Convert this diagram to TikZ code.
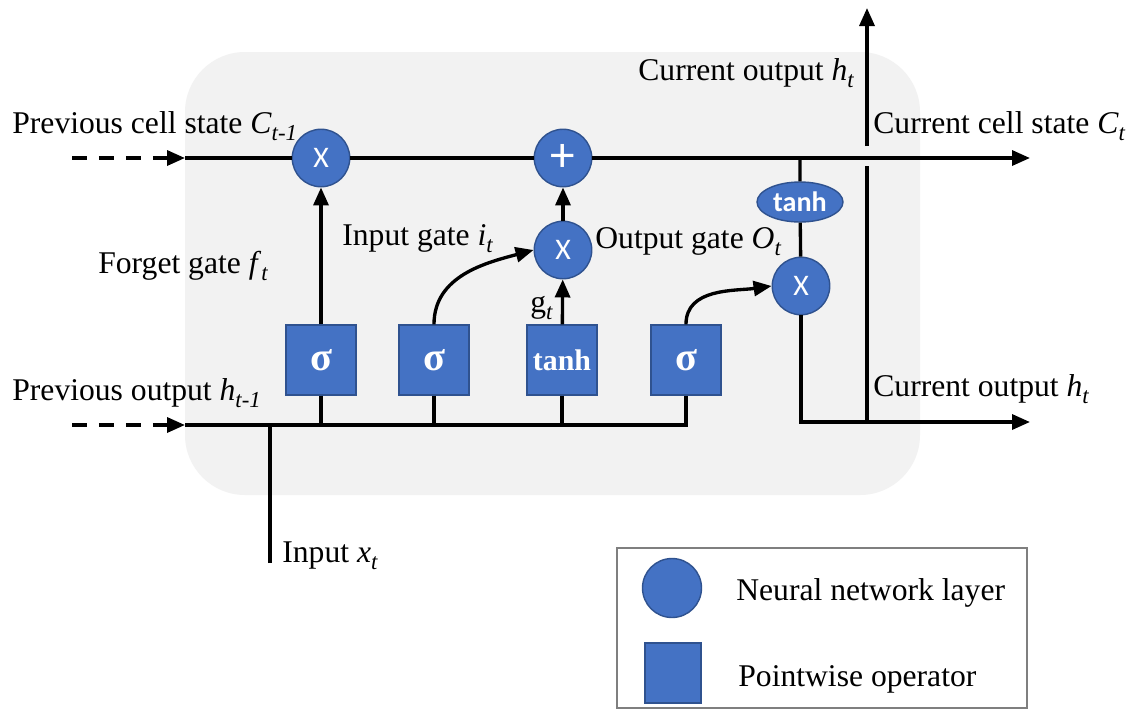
\documentclass[tikz,border=0pt]{standalone}
\usepackage{fontspec}
\setmainfont{Liberation Serif}
\newfontfamily\opfont{Carlito}
\usetikzlibrary{positioning, arrows.meta, shapes.geometric, calc}
\definecolor{gateblue}{HTML}{4472C4}
\definecolor{gateedge}{HTML}{2F528F}
\definecolor{cellgray}{HTML}{F2F2F2}
\definecolor{keyframe}{HTML}{7F7F7F}
\newcommand{\lowsub}[1]{\raisebox{-0.55ex}{\fontsize{13}{13}\selectfont\itshape #1}}
\tikzset{
  layer/.style={circle, minimum size=1.15cm, inner sep=0pt, fill=gateblue, draw=gateedge, line width=0.8pt, text=white, font=\opfont\fontsize{17}{17}\selectfont},
  pointwise/.style={rectangle, minimum width=1.4cm, minimum height=1.4cm, inner sep=0pt, fill=gateblue, draw=gateedge, line width=0.8pt, text=white, font=\bfseries\fontsize{17}{17}\selectfont},
  squash/.style={ellipse, minimum width=1.72cm, minimum height=0.8cm, inner sep=0pt, fill=gateblue, draw=gateedge, line width=0.8pt, text=white, font=\opfont\bfseries\fontsize{16}{16}\selectfont},
  sigma/.style={pointwise, font=\bfseries\fontsize{23}{23}\selectfont},
  txt/.style={anchor=base west, inner sep=0pt, font=\fontsize{18}{20}\selectfont},
  wire/.style={line width=1.9pt},
  arrow/.style={wire, -{Triangle[length=0.36cm,width=0.3cm]}},
  feed/.style={arrow, dash pattern=on 0.3cm off 0.24cm}
}

\begin{document}
\begin{tikzpicture}[x=0.02cm, y=-0.02cm]
    \useasboundingbox (0,0) rectangle (1133,711);
    \fill[white] (0,0) rectangle (1133,711);

    % Cell body
    \fill[cellgray, rounded corners=1.2cm] (185,52) rectangle (920,495);

    % Gates and operators
    \node[layer] (mulf) at (321,158) {X};
    \node[layer, font=\opfont\fontsize{28}{28}\selectfont] (add) at (563,158) {+};
    \node[layer] (muli) at (563,250) {X};
    \node[squash] (tanhc) at (800,202) {tanh};
    \node[layer] (mulo) at (801,286) {X};
    \node[sigma] (sigf) at (321,360) {σ};
    \node[sigma] (sigi) at (434,360) {σ};
    \node[pointwise] (tanhg) at (562,360) {tanh};
    \node[sigma] (sigo) at (686,360) {σ};

    % Free ends of the wires
    \coordinate (cstart) at (72,158);
    \coordinate (cin) at (185,158);
    \coordinate (cout) at (1030,158);
    \coordinate (ctap) at (800,158);
    \coordinate (hstart) at (72,425);
    \coordinate (hin) at (185,425);
    \coordinate (xin) at (270,563);
    \coordinate (hout) at (1030,422);
    \coordinate (hjoin) at (867,422);
    \coordinate (hbreak) at (867,166);
    \coordinate (hresume) at (867,146);
    \coordinate (htop) at (867,8);

    % Cell state line
    \draw[feed] (cstart) -- (cin);
    \draw[wire] (cin) -- (mulf) (mulf) -- (add);
    \draw[arrow] (add) -- (cout);

    % Input line
    \draw[feed] (hstart) -- (hin);
    \draw[wire] (hin) -- (hin -| sigo) -- (sigo);
    \foreach \g in {sigf, sigi, tanhg}
        \draw[wire] (\g) -- (\g |- hin);
    \draw[wire] (xin) -- (xin |- hin);

    % Gate connections
    \draw[arrow] (sigf) -- (mulf);
    \draw[arrow] (sigi.north) to[out=90, in=195] (muli.west);
    \draw[arrow] (tanhg) -- (muli);
    \draw[arrow] (muli) -- (add);
    \draw[arrow] (sigo.north) to[out=90, in=188] (mulo.west);

    % Output path
    \draw[wire] (ctap) -- (tanhc) (tanhc) -- (mulo);
    \draw[arrow] (mulo) |- (hout);
    \draw[wire] (hjoin) -- (hbreak);
    \draw[arrow] (hresume) -- (htop);

    % Labels
    \node[txt] (lcprev) at (12,133) {Previous cell state \textit{C}\lowsub{t-1}};
    \node[txt] (lforget) at (98,273) {Forget gate \textit{f}\lowsub{t}};
    \node[txt] (linput) at (342,245) {Input gate \textit{i}\lowsub{t}};
    \node[txt] (loutput) at (595,248) {Output gate \textit{O}\lowsub{t}};
    \node[txt] (lg) at (530,312) {g\lowsub{t}};
    \node[txt] (lhtop) at (638,80) {Current output \textit{h}\lowsub{t}};
    \node[txt] (lcnow) at (873,133) {Current cell state \textit{C}\lowsub{t}};
    \node[txt] (lhnow) at (873,396) {Current output \textit{h}\lowsub{t}};
    \node[txt] (lhprev) at (12,400) {Previous output \textit{h}\lowsub{t-1}};
    \node[txt] (lx) at (282,562) {Input \textit{x}\lowsub{t}};

    % Legend
    \draw[keyframe, line width=1.2pt] (617,548) rectangle (1027,708);
    \node[layer, minimum size=1.18cm] (keylayer) at (672,588) {};
    \node[pointwise, minimum width=1.12cm, minimum height=1.2cm] (keyop) at (673,673) {};
    \node[txt] (keylayertxt) at (736,600) {Neural network layer};
    \node[txt] (keyoptxt) at (738,686) {Pointwise operator};
\end{tikzpicture}
\end{document}
